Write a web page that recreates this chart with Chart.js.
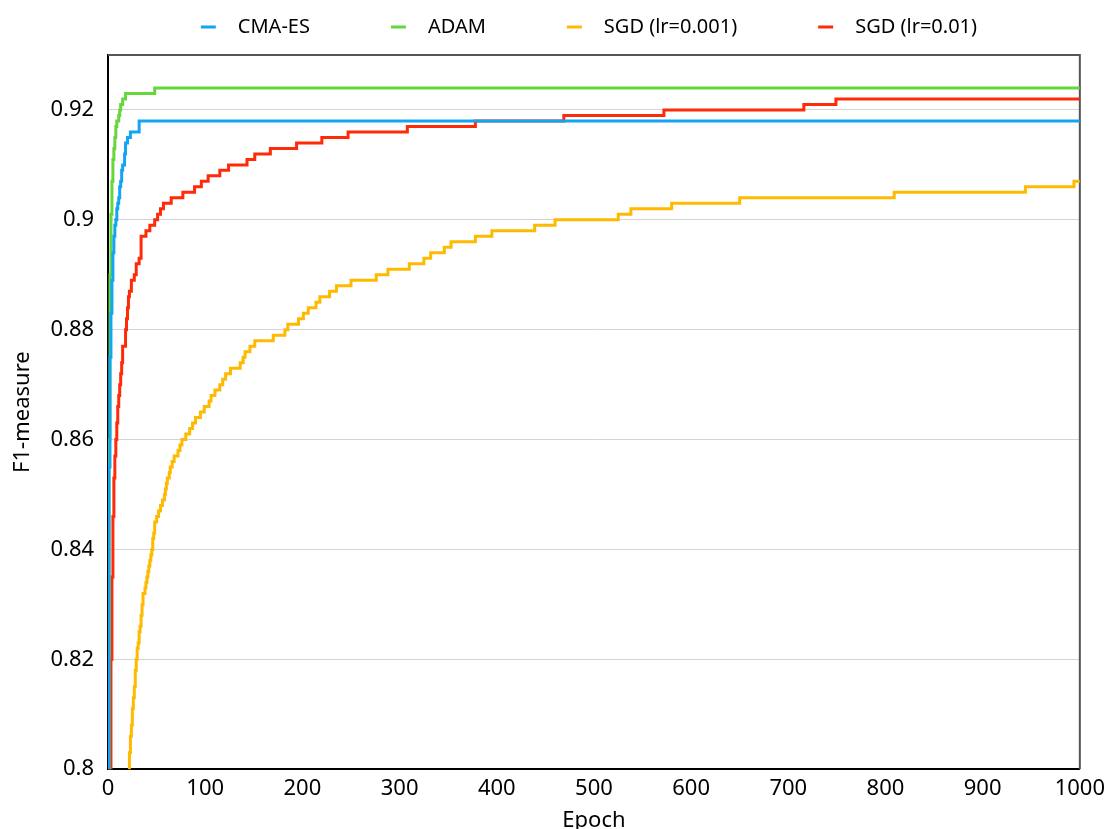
<!DOCTYPE html>
<html>
<head>
<meta charset="utf-8">
<script src="https://cdn.jsdelivr.net/npm/chart.js@4.4.0/dist/chart.umd.min.js"></script>
<style>
  html, body { margin: 0; padding: 0; background: #fff; overflow: hidden; }
  #f1Chart { display: block; }
</style>
</head>
<body>
<canvas id="f1Chart" width="1111" height="834"></canvas>
<script>
/* F1-measure per epoch for each optimiser (values change at the listed epochs) */
const cmaEpochs = [0, 1, 2, 3, 4, 5, 6, 7, 8, 9, 10, 11, 12, 13, 14, 15, 17, 18, 20, 23, 32, 1000];
const cmaF1 = [0.800, 0.855, 0.875, 0.883, 0.889, 0.894, 0.897, 0.899, 0.900, 0.902, 0.903, 0.904, 0.906, 0.907, 0.909, 0.910, 0.912, 0.914, 0.915, 0.916, 0.918, 0.918];

const adamEpochs = [0, 1, 2, 3, 4, 5, 6, 7, 8, 9, 11, 12, 13, 15, 18, 48, 1000];
const adamF1 = [0.800, 0.860, 0.890, 0.901, 0.907, 0.911, 0.913, 0.915, 0.917, 0.918, 0.919, 0.920, 0.921, 0.922, 0.923, 0.924, 0.924];

const sgdSlowEpochs = [21, 22, 23, 24, 25, 26, 27, 28, 29, 30, 31, 32, 33, 34, 35, 36, 38, 39, 40, 41, 42, 43, 44, 45, 46, 47, 48, 50, 52, 54, 56, 58, 59, 60, 61, 63, 64, 66, 68, 72, 74, 76, 80, 84, 87, 90, 95, 99, 104, 106, 110, 115, 118, 121, 126, 136, 139, 141, 146, 151, 170, 182, 185, 196, 201, 206, 214, 218, 228, 235, 250, 276, 288, 310, 325, 332, 346, 353, 378, 395, 439, 460, 525, 538, 580, 650, 809, 944, 994, 1000];
const sgdSlowF1 = [0.800, 0.803, 0.806, 0.808, 0.811, 0.813, 0.815, 0.818, 0.820, 0.822, 0.823, 0.825, 0.826, 0.828, 0.830, 0.832, 0.833, 0.834, 0.835, 0.836, 0.837, 0.838, 0.839, 0.840, 0.842, 0.843, 0.845, 0.846, 0.847, 0.848, 0.849, 0.850, 0.851, 0.852, 0.853, 0.854, 0.855, 0.856, 0.857, 0.858, 0.859, 0.860, 0.861, 0.862, 0.863, 0.864, 0.865, 0.866, 0.867, 0.868, 0.869, 0.870, 0.871, 0.872, 0.873, 0.874, 0.875, 0.876, 0.877, 0.878, 0.879, 0.880, 0.881, 0.882, 0.883, 0.884, 0.885, 0.886, 0.887, 0.888, 0.889, 0.890, 0.891, 0.892, 0.893, 0.894, 0.895, 0.896, 0.897, 0.898, 0.899, 0.900, 0.901, 0.902, 0.903, 0.904, 0.905, 0.906, 0.907, 0.907];

const sgdFastEpochs = [2, 3, 4, 5, 6, 7, 8, 9, 10, 11, 12, 13, 14, 15, 18, 19, 20, 21, 22, 24, 27, 29, 32, 34, 39, 43, 48, 51, 54, 57, 65, 77, 89, 96, 103, 115, 124, 143, 151, 167, 194, 220, 247, 308, 378, 469, 572, 716, 749, 1000];
const sgdFastF1 = [0.800, 0.820, 0.835, 0.846, 0.853, 0.857, 0.860, 0.863, 0.866, 0.868, 0.870, 0.872, 0.874, 0.877, 0.880, 0.882, 0.884, 0.886, 0.887, 0.889, 0.890, 0.892, 0.893, 0.897, 0.898, 0.899, 0.900, 0.901, 0.902, 0.903, 0.904, 0.905, 0.906, 0.907, 0.908, 0.909, 0.910, 0.911, 0.912, 0.913, 0.914, 0.915, 0.916, 0.917, 0.918, 0.919, 0.920, 0.921, 0.922, 0.922];

const yTickValues = [0.80, 0.82, 0.84, 0.86, 0.88, 0.90, 0.92];

const toPoints = (epochs, f1) => epochs.map((e, i) => ({ x: e, y: f1[i] }));

const fontFamily = "'Noto Sans', sans-serif";

// gray frame on the top and right of the plot area
const plotFrame = {
    id: 'plotFrame',
    beforeDatasetsDraw(chart) {
        const { ctx, chartArea: a } = chart;
        ctx.save();
        ctx.strokeStyle = '#555';
        ctx.lineWidth = 2;
        ctx.beginPath();
        ctx.moveTo(a.left, a.top);
        ctx.lineTo(a.right, a.top);
        ctx.lineTo(a.right, a.bottom);
        ctx.stroke();
        ctx.restore();
    }
};

// one-row legend above the plot: short coloured dash, then the label
const legendRow = {
    id: 'legendRow',
    afterDraw(chart) {
        const { ctx, chartArea: a } = chart;
        const dash = 15, gap = 22, spacing = 81, y = 27;
        ctx.save();
        ctx.font = `20px ${fontFamily}`;
        ctx.textBaseline = 'middle';
        const items = chart.data.datasets.map(ds => ({ ds, w: ctx.measureText(ds.label).width }));
        const total = items.reduce((s, it) => s + dash + gap + it.w, 0) + spacing * (items.length - 1);
        let x = (a.left + a.right) / 2 - 5 - total / 2;
        items.forEach(it => {
            ctx.fillStyle = it.ds.borderColor;
            ctx.fillRect(x, y - 1.5, dash, 3);
            x += dash + gap;
            ctx.fillStyle = '#000';
            ctx.fillText(it.ds.label, x, y);
            x += it.w + spacing;
        });
        ctx.restore();
    }
};

function series(label, color, epochs, f1) {
    return {
        label: label,
        data: toPoints(epochs, f1),
        borderColor: color,
        backgroundColor: color,
        borderWidth: 3,
        pointRadius: 0,
        stepped: true,
        fill: false
    };
}

const f1Chart = new Chart(document.getElementById('f1Chart').getContext('2d'), {
    type: 'line',
    data: {
        datasets: [
            series('CMA-ES', '#12a6f2', cmaEpochs, cmaF1),
            series('ADAM', '#66d63c', adamEpochs, adamF1),
            series('SGD (lr=0.001)', '#fdba00', sgdSlowEpochs, sgdSlowF1),
            series('SGD (lr=0.01)', '#ff2a08', sgdFastEpochs, sgdFastF1)
        ]
    },
    options: {
        responsive: false,
        animation: false,
        layout: {
            padding: { left: 10, right: 28, top: 55, bottom: 0 }
        },
        plugins: {
            legend: { display: false },
            tooltip: { enabled: false }
        },
        scales: {
            x: {
                type: 'linear',
                min: 0,
                max: 1000,
                ticks: {
                    stepSize: 100,
                    color: '#000',
                    font: { family: fontFamily, size: 22 },
                    padding: 6,
                    maxRotation: 0,
                    callback: v => String(v)
                },
                grid: { display: false, drawTicks: false },
                border: { color: '#000', width: 2 },
                title: {
                    display: true,
                    text: 'Epoch',
                    color: '#000',
                    font: { family: fontFamily, size: 22 },
                    padding: { top: 0, bottom: 0 }
                }
            },
            y: {
                type: 'linear',
                min: 0.8,
                max: 0.93,
                afterBuildTicks(axis) {
                    axis.ticks = yTickValues.map(v => ({ value: v }));
                },
                ticks: {
                    color: '#000',
                    font: { family: fontFamily, size: 22 },
                    padding: 14,
                    callback: v => String(+v.toFixed(2))
                },
                grid: { color: '#d4d4d4', lineWidth: 1, drawTicks: false },
                border: { color: '#000', width: 2 },
                title: {
                    display: true,
                    text: 'F1-measure',
                    color: '#000',
                    font: { family: fontFamily, size: 22 },
                    padding: { top: 0, bottom: 0 }
                }
            }
        }
    },
    plugins: [plotFrame, legendRow]
});
</script>
</body>
</html>
